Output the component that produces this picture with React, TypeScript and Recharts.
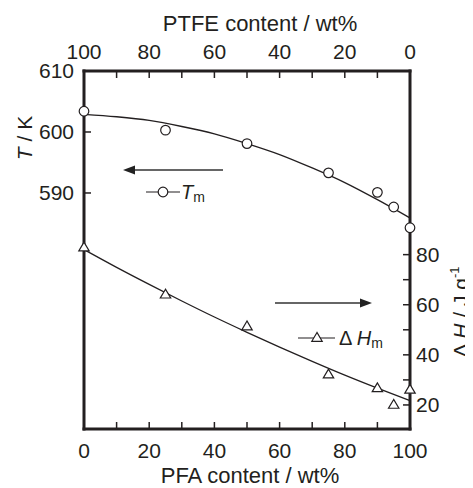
import React from "react";
import { ComposedChart, Line, Scatter, XAxis, YAxis } from "recharts";

const INK = "#231f20";
const FONT = "'Liberation Sans', Arial, Helvetica, sans-serif";

// tick positions
const PFA_TICKS = [0, 10, 20, 30, 40, 50, 60, 70, 80, 90, 100];
const T_TICKS = [590, 600, 610];
const DH_TICKS = [20, 30, 40, 50, 60, 70, 80];

// measured samples
const SAMPLE_PFA = [0, 25, 50, 75, 90, 95, 100];
const TM_VALUES = [603.4, 600.3, 598.1, 593.3, 590.1, 587.7, 584.3];
const DH_VALUES = [82.8, 64.0, 51.3, 32.1, 26.6, 20.0, 26.0];

// fitted curves
const FIT_PFA = [0, 10, 20, 30, 40, 50, 60, 70, 80, 90, 100];
const TM_FIT = [602.9, 602.5, 601.9, 600.9, 599.7, 598.1, 596.3, 594.1, 591.7, 588.9, 585.9];
const DH_FIT = [82.0, 74.9, 68.1, 61.5, 55.1, 49.0, 43.1, 37.4, 31.9, 26.7, 21.7];

const tmPoints = SAMPLE_PFA.map((x, i) => ({ x, y: TM_VALUES[i] }));
const dhPoints = SAMPLE_PFA.map((x, i) => ({ x, y: DH_VALUES[i] }));
const tmCurve = FIT_PFA.map((x, i) => ({ x, y: TM_FIT[i] }));
const dhCurve = FIT_PFA.map((x, i) => ({ x, y: DH_FIT[i] }));

const W = 465;
const H = 480;

const tickStyle = { fill: INK, fontSize: 21, fontFamily: FONT };
const axisLineStyle = { stroke: INK, strokeWidth: 3, strokeLinecap: "square" as const };
const tickLineStyle = { stroke: INK, strokeWidth: 1.5 };

const every20 = (v: number) => (v % 20 === 0 ? String(v) : "");

function CircleMark(props: any) {
  const { cx, cy } = props;
  return <circle cx={cx} cy={cy} r={4.8} fill="#fff" stroke={INK} strokeWidth={1.2} />;
}

function TriangleMark(props: any) {
  const { cx, cy } = props;
  const pts = `${cx},${cy - 5.5} ${cx - 5.2},${cy + 3.3} ${cx + 5.2},${cy + 3.3}`;
  return <polygon points={pts} fill="#fff" stroke={INK} strokeWidth={1.2} />;
}

function Overlay() {
  return (
    <svg
      width={W}
      height={H}
      style={{ position: "absolute", left: 0, top: 0, overflow: "visible", pointerEvents: "none" }}
      fontFamily={FONT}
      fill={INK}
    >
      {/* axis titles */}
      <text x={252} y={23} fontSize={22} textAnchor="middle">
        PTFE content / wt%
      </text>
      <text x={242} y={475} fontSize={22} textAnchor="middle">
        PFA content / wt%
      </text>
      <text transform="translate(23.5,130) rotate(-90)" fontSize={21} textAnchor="middle">
        <tspan fontStyle="italic">T</tspan> / K
      </text>
      <text transform="translate(460,304) rotate(-90)" fontSize={21} textAnchor="middle">
        Δ <tspan fontStyle="italic">H</tspan> / J g
        <tspan fontSize={13} dy={-9}>-1</tspan>
      </text>

      {/* arrow to left axis */}
      <line x1={124} y1={162} x2={215} y2={162} stroke="#333" strokeWidth={1.5} />
      <polygon points="115,162 127,157.5 127,166.5" fill="#222" />
      {/* Tm legend */}
      <line x1={138} y1={184} x2={172} y2={184} stroke={INK} strokeWidth={1.2} />
      <circle cx={155} cy={184} r={4.8} fill="#fff" stroke={INK} strokeWidth={1.2} />
      <text x={173} y={191} fontSize={20}>
        <tspan fontStyle="italic">T</tspan>
        <tspan fontSize={14} dy={3}>m</tspan>
      </text>

      {/* arrow to right axis */}
      <line x1={267} y1={295} x2={355} y2={295} stroke="#333" strokeWidth={1.5} />
      <polygon points="364,295 352,290.5 352,299.5" fill="#222" />
      {/* dH legend */}
      <line x1={290} y1={330} x2={327} y2={330} stroke={INK} strokeWidth={1.2} />
      <polygon points="309,324.5 303.8,333.3 314.2,333.3" fill="#fff" stroke={INK} strokeWidth={1.2} />
      <text x={331} y={337} fontSize={20}>
        Δ <tspan fontStyle="italic">H</tspan>
        <tspan fontSize={14} dy={3}>m</tspan>
      </text>
    </svg>
  );
}

export default function App() {
  return (
    <div style={{ position: "relative", width: W, height: H }}>
      <style>{`body{overflow:hidden;}`}</style>
      <ComposedChart width={W} height={H} margin={{ top: 0, right: 0, bottom: 0, left: 0 }}>
        <XAxis
          xAxisId="bottom"
          dataKey="x"
          type="number"
          domain={[0, 100]}
          ticks={PFA_TICKS}
          tickFormatter={every20}
          height={59}
          tickSize={-7}
          tickMargin={21}
          tick={tickStyle}
          axisLine={axisLineStyle}
          tickLine={tickLineStyle}
          interval={0}
        />
        <XAxis
          xAxisId="top"
          dataKey="x"
          orientation="top"
          type="number"
          domain={[0, 100]}
          reversed
          ticks={PFA_TICKS}
          tickFormatter={every20}
          height={63}
          tickSize={-7}
          tickMargin={19.5}
          tick={tickStyle}
          axisLine={axisLineStyle}
          tickLine={tickLineStyle}
          interval={0}
        />
        <YAxis
          yAxisId="T"
          type="number"
          domain={[551.3, 610]}
          ticks={T_TICKS}
          width={76}
          tickSize={-7}
          tickMargin={17}
          tick={tickStyle}
          axisLine={axisLineStyle}
          tickLine={tickLineStyle}
          interval={0}
        />
        <YAxis
          yAxisId="H"
          orientation="right"
          type="number"
          domain={[10.4, 153.3]}
          ticks={DH_TICKS}
          tickFormatter={every20}
          width={63}
          tickSize={-7}
          tickMargin={13}
          tick={tickStyle}
          axisLine={axisLineStyle}
          tickLine={tickLineStyle}
          interval={0}
        />
        {/* invisible series so the top (PTFE) axis gets a domain */}
        <Line
          data={tmCurve}
          dataKey="y"
          xAxisId="top"
          yAxisId="T"
          stroke="none"
          dot={false}
          activeDot={false}
          legendType="none"
          isAnimationActive={false}
        />
        <Line
          data={tmCurve}
          dataKey="y"
          xAxisId="bottom"
          yAxisId="T"
          type="monotone"
          dot={false}
          stroke={INK}
          strokeWidth={1.3}
          isAnimationActive={false}
        />
        <Line
          data={dhCurve}
          dataKey="y"
          xAxisId="bottom"
          yAxisId="H"
          type="monotone"
          dot={false}
          stroke={INK}
          strokeWidth={1.3}
          isAnimationActive={false}
        />
        <Scatter
          data={tmPoints}
          dataKey="y"
          xAxisId="bottom"
          yAxisId="T"
          shape={CircleMark}
          isAnimationActive={false}
        />
        <Scatter
          data={dhPoints}
          dataKey="y"
          xAxisId="bottom"
          yAxisId="H"
          shape={TriangleMark}
          isAnimationActive={false}
        />
      </ComposedChart>
      <Overlay />
    </div>
  );
}
